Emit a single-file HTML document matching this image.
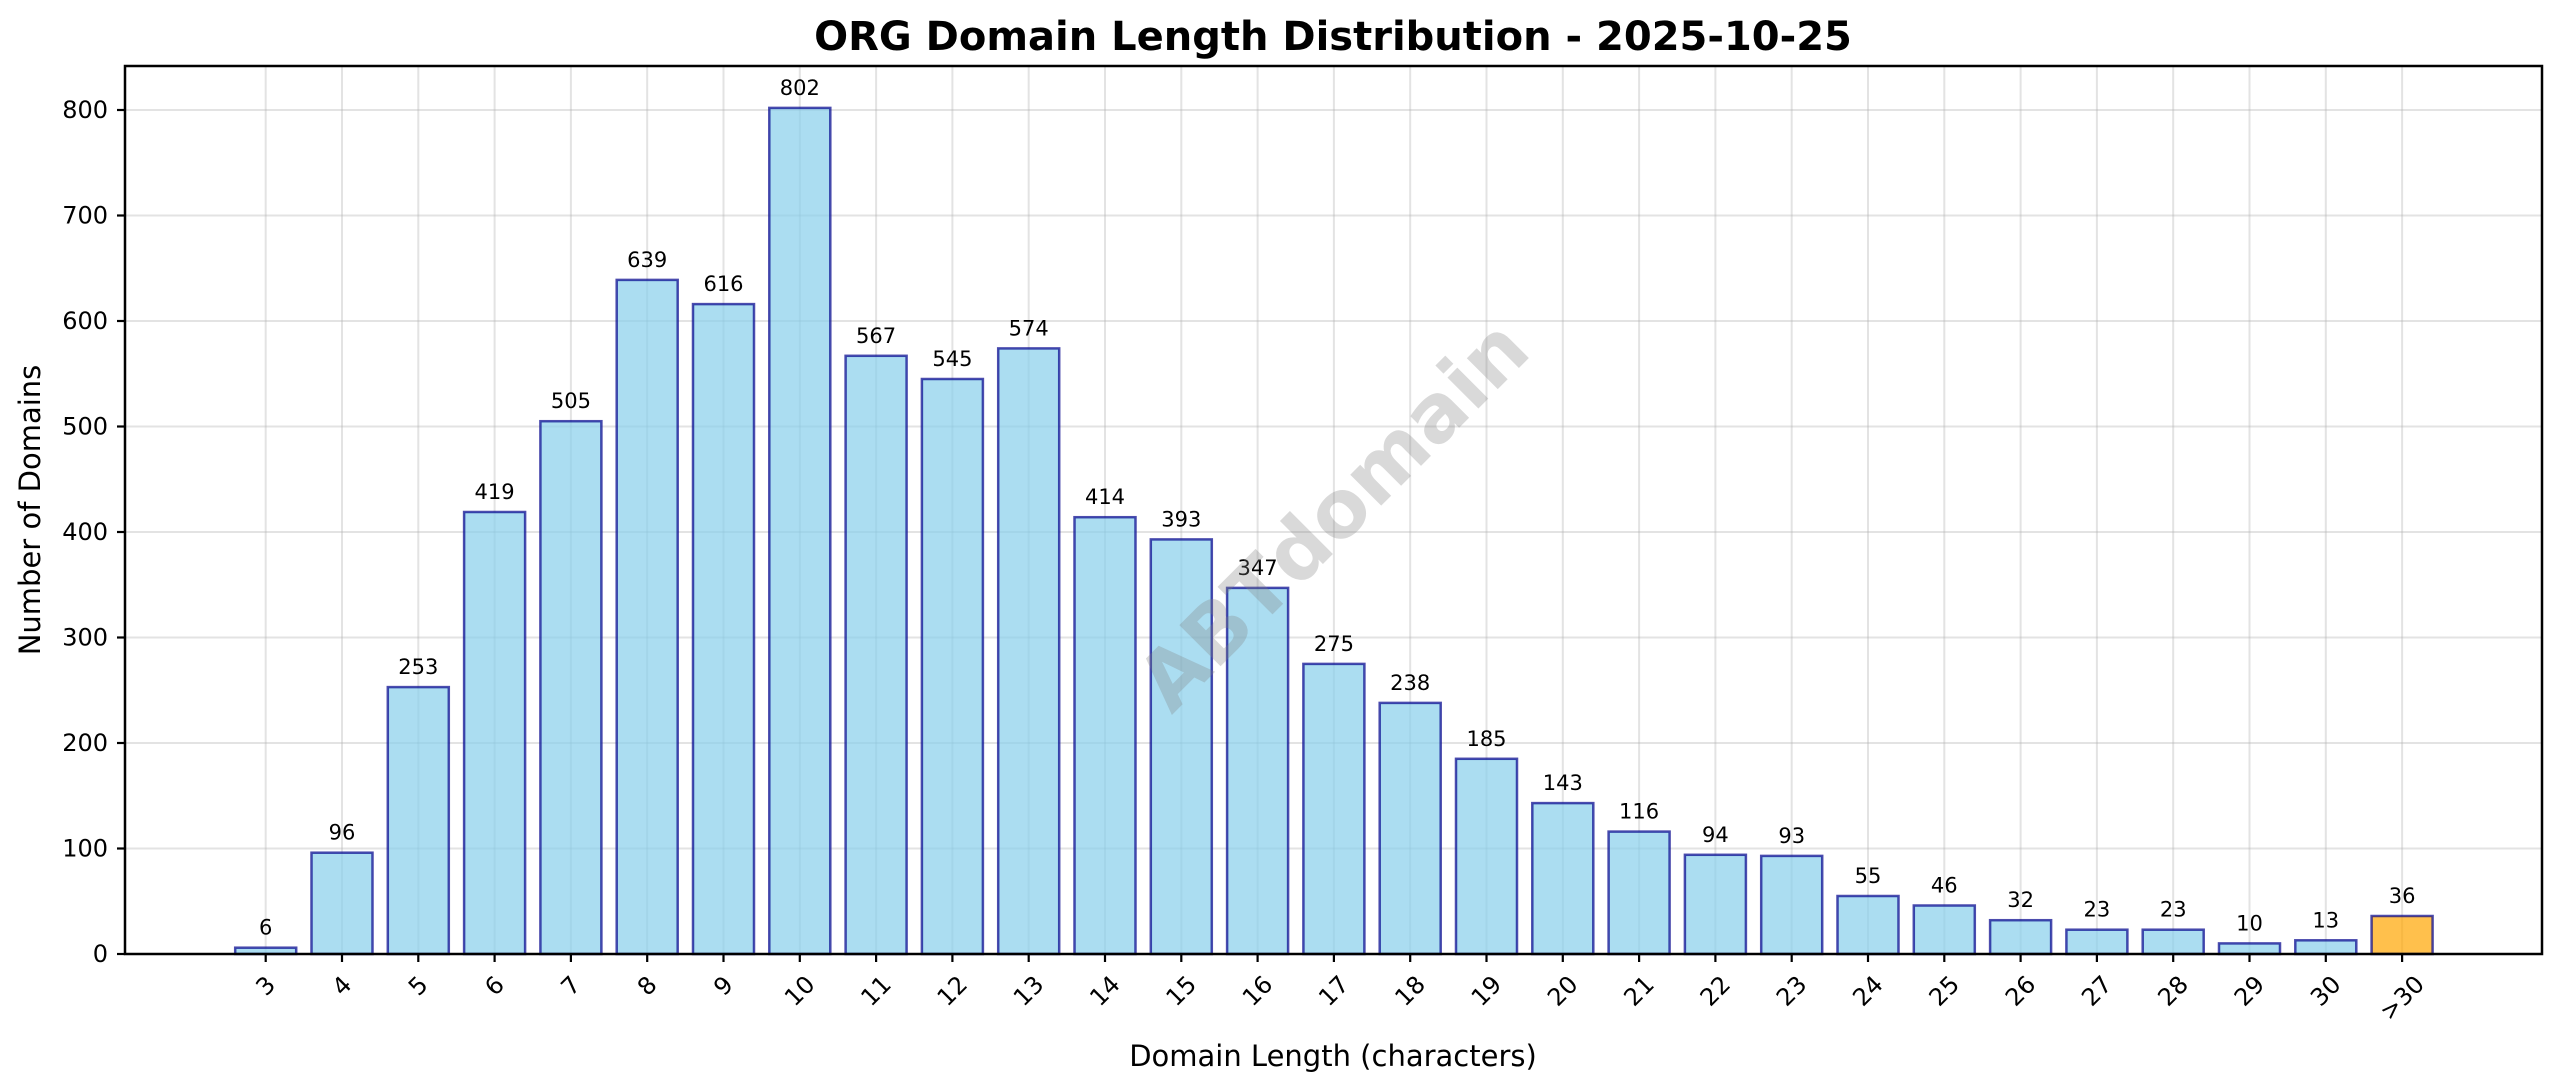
<!DOCTYPE html>
<html><head><meta charset="utf-8"><style>html,body{margin:0;padding:0;background:#fff}svg{display:block}text{font-family:"DejaVu Sans","Liberation Sans",sans-serif;fill:#000}</style></head><body>
<svg width="2560" height="1087" viewBox="0 0 2560 1087" xmlns="http://www.w3.org/2000/svg">
<rect width="2560" height="1087" fill="#fff"/>
<g stroke="#b0b0b0" stroke-opacity="0.35" stroke-width="2">
<line x1="125" x2="2542" y1="954" y2="954"/><line x1="125" x2="2542" y1="848.5" y2="848.5"/><line x1="125" x2="2542" y1="743" y2="743"/><line x1="125" x2="2542" y1="637.5" y2="637.5"/><line x1="125" x2="2542" y1="532" y2="532"/><line x1="125" x2="2542" y1="426.5" y2="426.5"/><line x1="125" x2="2542" y1="321" y2="321"/><line x1="125" x2="2542" y1="215.5" y2="215.5"/><line x1="125" x2="2542" y1="110" y2="110"/>
<line x1="265.7" x2="265.7" y1="66" y2="954"/><line x1="342" x2="342" y1="66" y2="954"/><line x1="418.3" x2="418.3" y1="66" y2="954"/><line x1="494.6" x2="494.6" y1="66" y2="954"/><line x1="570.9" x2="570.9" y1="66" y2="954"/><line x1="647.2" x2="647.2" y1="66" y2="954"/><line x1="723.5" x2="723.5" y1="66" y2="954"/><line x1="799.8" x2="799.8" y1="66" y2="954"/><line x1="876.1" x2="876.1" y1="66" y2="954"/><line x1="952.4" x2="952.4" y1="66" y2="954"/><line x1="1028.7" x2="1028.7" y1="66" y2="954"/><line x1="1105" x2="1105" y1="66" y2="954"/><line x1="1181.3" x2="1181.3" y1="66" y2="954"/><line x1="1257.6" x2="1257.6" y1="66" y2="954"/><line x1="1333.9" x2="1333.9" y1="66" y2="954"/><line x1="1410.2" x2="1410.2" y1="66" y2="954"/><line x1="1486.5" x2="1486.5" y1="66" y2="954"/><line x1="1562.8" x2="1562.8" y1="66" y2="954"/><line x1="1639.1" x2="1639.1" y1="66" y2="954"/><line x1="1715.4" x2="1715.4" y1="66" y2="954"/><line x1="1791.7" x2="1791.7" y1="66" y2="954"/><line x1="1868" x2="1868" y1="66" y2="954"/><line x1="1944.3" x2="1944.3" y1="66" y2="954"/><line x1="2020.6" x2="2020.6" y1="66" y2="954"/><line x1="2096.9" x2="2096.9" y1="66" y2="954"/><line x1="2173.2" x2="2173.2" y1="66" y2="954"/><line x1="2249.5" x2="2249.5" y1="66" y2="954"/><line x1="2325.8" x2="2325.8" y1="66" y2="954"/><line x1="2402.1" x2="2402.1" y1="66" y2="954"/>
</g>
<g fill="#87CEEB" fill-opacity="0.7" stroke="#00008B" stroke-opacity="0.7" stroke-width="2.5">
<rect x="235.2" y="947.7" width="61" height="6.3"/><rect x="311.5" y="852.7" width="61" height="101.3"/><rect x="387.8" y="687.1" width="61" height="266.9"/><rect x="464.1" y="512" width="61" height="442"/><rect x="540.4" y="421.2" width="61" height="532.8"/><rect x="616.7" y="279.9" width="61" height="674.1"/><rect x="693" y="304.1" width="61" height="649.9"/><rect x="769.3" y="107.9" width="61" height="846.1"/><rect x="845.6" y="355.8" width="61" height="598.2"/><rect x="921.9" y="379" width="61" height="575"/><rect x="998.2" y="348.4" width="61" height="605.6"/><rect x="1074.5" y="517.2" width="61" height="436.8"/><rect x="1150.8" y="539.4" width="61" height="414.6"/><rect x="1227.1" y="587.9" width="61" height="366.1"/><rect x="1303.4" y="663.9" width="61" height="290.1"/><rect x="1379.7" y="702.9" width="61" height="251.1"/><rect x="1456" y="758.8" width="61" height="195.2"/><rect x="1532.3" y="803.1" width="61" height="150.9"/><rect x="1608.6" y="831.6" width="61" height="122.4"/><rect x="1684.9" y="854.8" width="61" height="99.2"/><rect x="1761.2" y="855.9" width="61" height="98.1"/><rect x="1837.5" y="896" width="61" height="58"/><rect x="1913.8" y="905.5" width="61" height="48.5"/><rect x="1990.1" y="920.2" width="61" height="33.8"/><rect x="2066.4" y="929.7" width="61" height="24.3"/><rect x="2142.7" y="929.7" width="61" height="24.3"/><rect x="2219" y="943.4" width="61" height="10.6"/><rect x="2295.3" y="940.3" width="61" height="13.7"/>
<rect x="2371.6" y="916" width="61" height="38" fill="#FFA500"/>
</g>
<g font-size="21" text-anchor="middle">
<text x="265.7" y="934.7">6</text><text x="342" y="839.7">96</text><text x="418.3" y="674.1">253</text><text x="494.6" y="499">419</text><text x="570.9" y="408.2">505</text><text x="647.2" y="266.9">639</text><text x="723.5" y="291.1">616</text><text x="799.8" y="94.9">802</text><text x="876.1" y="342.8">567</text><text x="952.4" y="366">545</text><text x="1028.7" y="335.4">574</text><text x="1105" y="504.2">414</text><text x="1181.3" y="526.4">393</text><text x="1257.6" y="574.9">347</text><text x="1333.9" y="650.9">275</text><text x="1410.2" y="689.9">238</text><text x="1486.5" y="745.8">185</text><text x="1562.8" y="790.1">143</text><text x="1639.1" y="818.6">116</text><text x="1715.4" y="841.8">94</text><text x="1791.7" y="842.9">93</text><text x="1868" y="883">55</text><text x="1944.3" y="892.5">46</text><text x="2020.6" y="907.2">32</text><text x="2096.9" y="916.7">23</text><text x="2173.2" y="916.7">23</text><text x="2249.5" y="930.4">10</text><text x="2325.8" y="927.3">13</text><text x="2402.1" y="903">36</text>
</g>
<text x="1333" y="515" font-size="80" font-weight="bold" fill-opacity="0.3" style="fill:#808080" text-anchor="middle" dominant-baseline="central" transform="rotate(-45 1333 515)">ABTdomain</text>
<rect x="125" y="66" width="2417" height="888" fill="none" stroke="#000" stroke-width="2.5"/>
<g stroke="#000" stroke-width="2.2">
<line x1="117" x2="125" y1="954" y2="954"/><line x1="117" x2="125" y1="848.5" y2="848.5"/><line x1="117" x2="125" y1="743" y2="743"/><line x1="117" x2="125" y1="637.5" y2="637.5"/><line x1="117" x2="125" y1="532" y2="532"/><line x1="117" x2="125" y1="426.5" y2="426.5"/><line x1="117" x2="125" y1="321" y2="321"/><line x1="117" x2="125" y1="215.5" y2="215.5"/><line x1="117" x2="125" y1="110" y2="110"/>
<line x1="265.7" x2="265.7" y1="954" y2="962"/><line x1="342" x2="342" y1="954" y2="962"/><line x1="418.3" x2="418.3" y1="954" y2="962"/><line x1="494.6" x2="494.6" y1="954" y2="962"/><line x1="570.9" x2="570.9" y1="954" y2="962"/><line x1="647.2" x2="647.2" y1="954" y2="962"/><line x1="723.5" x2="723.5" y1="954" y2="962"/><line x1="799.8" x2="799.8" y1="954" y2="962"/><line x1="876.1" x2="876.1" y1="954" y2="962"/><line x1="952.4" x2="952.4" y1="954" y2="962"/><line x1="1028.7" x2="1028.7" y1="954" y2="962"/><line x1="1105" x2="1105" y1="954" y2="962"/><line x1="1181.3" x2="1181.3" y1="954" y2="962"/><line x1="1257.6" x2="1257.6" y1="954" y2="962"/><line x1="1333.9" x2="1333.9" y1="954" y2="962"/><line x1="1410.2" x2="1410.2" y1="954" y2="962"/><line x1="1486.5" x2="1486.5" y1="954" y2="962"/><line x1="1562.8" x2="1562.8" y1="954" y2="962"/><line x1="1639.1" x2="1639.1" y1="954" y2="962"/><line x1="1715.4" x2="1715.4" y1="954" y2="962"/><line x1="1791.7" x2="1791.7" y1="954" y2="962"/><line x1="1868" x2="1868" y1="954" y2="962"/><line x1="1944.3" x2="1944.3" y1="954" y2="962"/><line x1="2020.6" x2="2020.6" y1="954" y2="962"/><line x1="2096.9" x2="2096.9" y1="954" y2="962"/><line x1="2173.2" x2="2173.2" y1="954" y2="962"/><line x1="2249.5" x2="2249.5" y1="954" y2="962"/><line x1="2325.8" x2="2325.8" y1="954" y2="962"/><line x1="2402.1" x2="2402.1" y1="954" y2="962"/>
</g>
<g font-size="24" text-anchor="end" dominant-baseline="central">
<text x="108" y="954">0</text><text x="108" y="848.5">100</text><text x="108" y="743">200</text><text x="108" y="637.5">300</text><text x="108" y="532">400</text><text x="108" y="426.5">500</text><text x="108" y="321">600</text><text x="108" y="215.5">700</text><text x="108" y="110">800</text>
</g>
<g font-size="24" text-anchor="middle" dominant-baseline="central">
<text transform="translate(265.7 986) rotate(-45)">3</text><text transform="translate(342 986) rotate(-45)">4</text><text transform="translate(418.3 986) rotate(-45)">5</text><text transform="translate(494.6 986) rotate(-45)">6</text><text transform="translate(570.9 986) rotate(-45)">7</text><text transform="translate(647.2 986) rotate(-45)">8</text><text transform="translate(723.5 986) rotate(-45)">9</text>
<text transform="translate(799.8 991) rotate(-45)">10</text><text transform="translate(876.1 991) rotate(-45)">11</text><text transform="translate(952.4 991) rotate(-45)">12</text><text transform="translate(1028.7 991) rotate(-45)">13</text><text transform="translate(1105 991) rotate(-45)">14</text><text transform="translate(1181.3 991) rotate(-45)">15</text><text transform="translate(1257.6 991) rotate(-45)">16</text><text transform="translate(1333.9 991) rotate(-45)">17</text><text transform="translate(1410.2 991) rotate(-45)">18</text><text transform="translate(1486.5 991) rotate(-45)">19</text><text transform="translate(1562.8 991) rotate(-45)">20</text><text transform="translate(1639.1 991) rotate(-45)">21</text><text transform="translate(1715.4 991) rotate(-45)">22</text><text transform="translate(1791.7 991) rotate(-45)">23</text><text transform="translate(1868 991) rotate(-45)">24</text><text transform="translate(1944.3 991) rotate(-45)">25</text><text transform="translate(2020.6 991) rotate(-45)">26</text><text transform="translate(2096.9 991) rotate(-45)">27</text><text transform="translate(2173.2 991) rotate(-45)">28</text><text transform="translate(2249.5 991) rotate(-45)">29</text><text transform="translate(2325.8 991) rotate(-45)">30</text><text transform="translate(2402.1 998) rotate(-45)">&gt;30</text>
</g>
<text x="1333" y="50" font-size="40" font-weight="bold" text-anchor="middle">ORG Domain Length Distribution - 2025-10-25</text>
<text x="1333" y="1066" font-size="29" text-anchor="middle">Domain Length (characters)</text>
<text transform="translate(40 510) rotate(-90)" font-size="29" text-anchor="middle">Number of Domains</text>
</svg>
</body></html>
